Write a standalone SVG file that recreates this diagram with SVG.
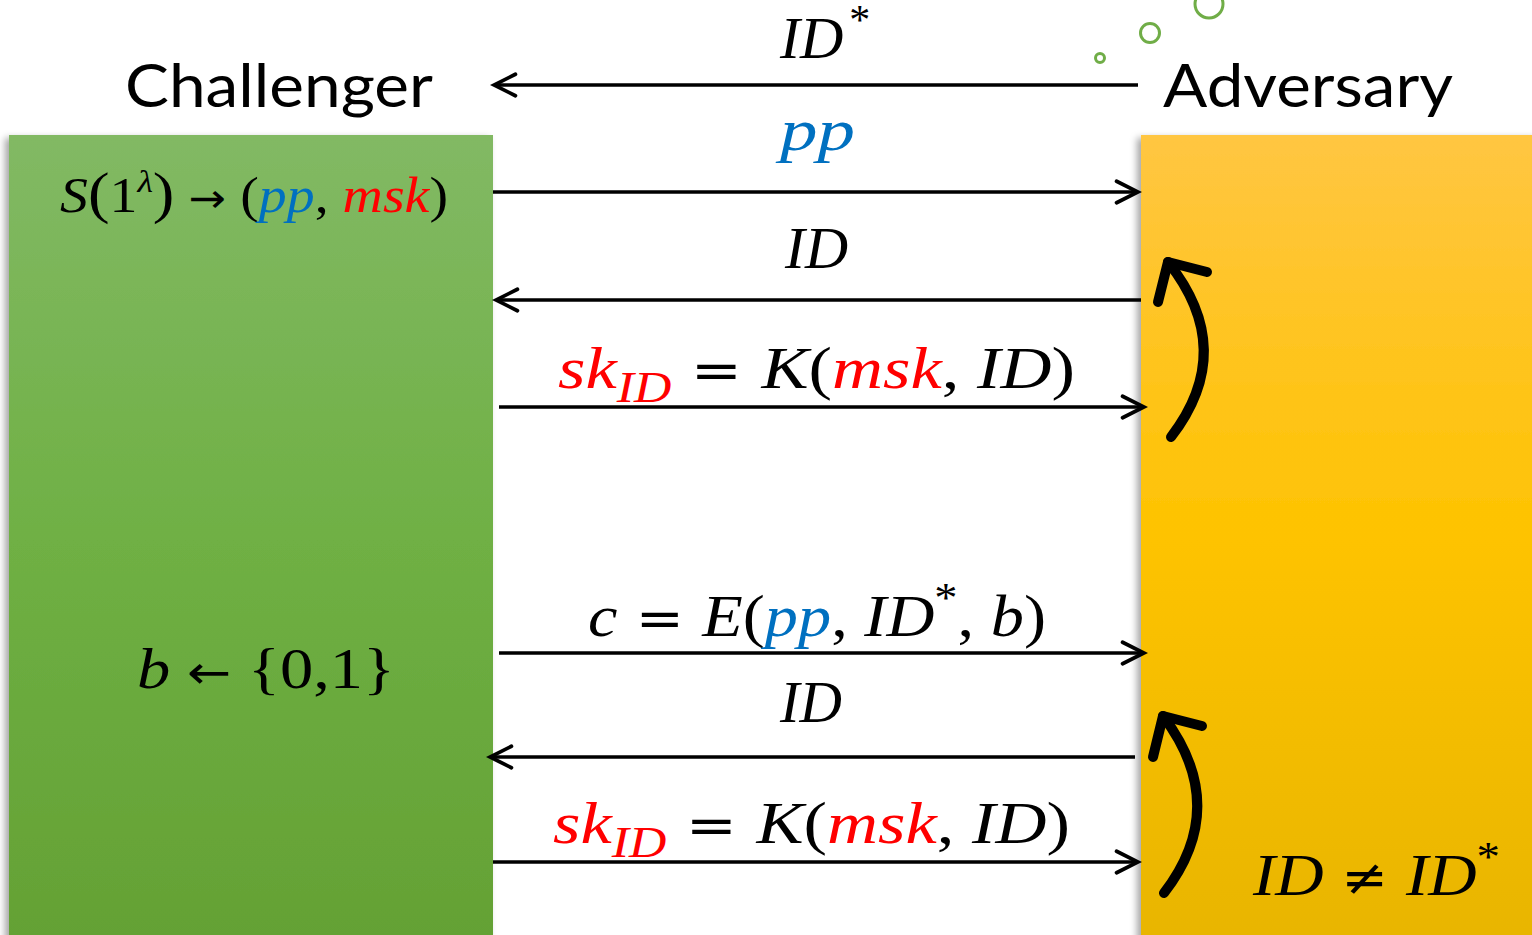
<svg xmlns="http://www.w3.org/2000/svg" width="1532" height="935" viewBox="0 0 1532 935">
  <defs>
    <linearGradient id="gGreen" x1="0" y1="0" x2="0" y2="1">
      <stop offset="0" stop-color="#82b964"/>
      <stop offset="0.5" stop-color="#6fb044"/>
      <stop offset="1" stop-color="#64a134"/>
    </linearGradient>
    <linearGradient id="gGold" x1="0" y1="0" x2="0" y2="1">
      <stop offset="0" stop-color="#ffc642"/>
      <stop offset="0.5" stop-color="#fec300"/>
      <stop offset="1" stop-color="#e8b500"/>
    </linearGradient>
    <filter id="shadow" x="-10%" y="-10%" width="120%" height="120%">
      <feDropShadow dx="-4" dy="3" stdDeviation="3.5" flood-color="#000" flood-opacity="0.35"/>
    </filter>
    <marker id="arrow" markerUnits="userSpaceOnUse" markerWidth="30" markerHeight="30" viewBox="-24 -14 28 28" refX="0" refY="0" orient="auto">
      <path d="M-20,-10 L0,0 L-20,10" fill="none" stroke="#000" stroke-width="3.5" stroke-linecap="round" stroke-linejoin="miter"/>
    </marker>
  </defs>
  <style>
    .title { font-family: Lato, "Liberation Sans", sans-serif; font-size: 60px; fill: #000; }
    .math { font-family: "Liberation Serif", "DejaVu Serif", serif; fill: #000; }
    .op { font-family: "DejaVu Sans", "Liberation Serif", serif; }
    .it { font-style: italic; }
    .blue { fill: #0070c0; }
    .red { fill: #ff0000; }
    .msg { stroke: #000; stroke-width: 3.5; fill: none; marker-end: url(#arrow); }
    .loop { stroke: #000; stroke-width: 10; fill: none; stroke-linecap: round; stroke-linejoin: round; }
    .bubble { fill: none; stroke: #70ad47; stroke-width: 3; }
  </style>

  <rect width="1532" height="935" fill="#ffffff"/>

  <!-- challenger column -->
  <g id="challenger">
    <rect x="9" y="135" width="484" height="810" fill="url(#gGreen)" filter="url(#shadow)"/>
    <text class="title" x="125" y="107" textLength="308" lengthAdjust="spacingAndGlyphs">Challenger</text>
    <text class="math" x="60" y="212" font-size="50" textLength="388" lengthAdjust="spacingAndGlyphs"><tspan class="it">S</tspan><tspan font-size="58">(</tspan>1<tspan class="it" font-size="32" dy="-20">λ</tspan><tspan dy="20" font-size="58">)</tspan><tspan class="op" font-size="40"> → </tspan>(<tspan class="it blue">pp</tspan>, <tspan class="it red">msk</tspan>)</text>
    <text class="math" x="137" y="688" font-size="58" textLength="258" lengthAdjust="spacingAndGlyphs"><tspan class="it">b</tspan><tspan class="op" font-size="46"> ← </tspan>{0,1}</text>
  </g>

  <!-- adversary column -->
  <g id="adversary">
    <rect x="1141" y="135" width="400" height="810" fill="url(#gGold)" filter="url(#shadow)"/>
    <text class="title" x="1163" y="107" textLength="290" lengthAdjust="spacingAndGlyphs">Adversary</text>
    <text class="math" x="1253" y="895" font-size="60" textLength="247" lengthAdjust="spacingAndGlyphs"><tspan class="it">ID</tspan><tspan class="op" font-size="50"> ≠ </tspan><tspan class="it">ID</tspan><tspan font-size="42" dy="-24">*</tspan></text>
  </g>

  <!-- thought bubbles -->
  <g id="bubbles">
    <circle class="bubble" cx="1100" cy="58" r="4.5"/>
    <circle class="bubble" cx="1150" cy="33" r="9.5"/>
    <circle class="bubble" cx="1209" cy="4" r="14"/>
  </g>

  <!-- message arrows -->
  <g id="connectors">
    <line class="msg" x1="1138" y1="85" x2="494" y2="85"/>
    <line class="msg" x1="493" y1="192" x2="1138" y2="192"/>
    <line class="msg" x1="1141" y1="300" x2="496" y2="300"/>
    <line class="msg" x1="499" y1="407" x2="1144" y2="407"/>
    <line class="msg" x1="499" y1="653" x2="1144" y2="653"/>
    <line class="msg" x1="1135" y1="757" x2="490" y2="757"/>
    <line class="msg" x1="493" y1="862" x2="1138" y2="862"/>

    <!-- repeat loops on the adversary side -->
    <path class="loop" d="M1171,437 Q1238,350 1168,262"/>
    <path class="loop" d="M1158,302 L1168,262 L1207,272"/>
    <path class="loop" d="M1164,893 Q1231,806 1163,716"/>
    <path class="loop" d="M1153,757 L1163,716 L1202,726"/>
  </g>

  <!-- message labels -->
  <g id="labels">
    <text class="math" x="780" y="58" font-size="60"><tspan class="it">ID</tspan><tspan font-size="42" dx="6" dy="-24">*</tspan></text>
    <text class="math it blue" x="780" y="150" font-size="60" textLength="75" lengthAdjust="spacingAndGlyphs">pp</text>
    <text class="math it" x="785" y="268" font-size="60" textLength="63" lengthAdjust="spacingAndGlyphs">ID</text>
    <text class="math" x="558" y="388" font-size="60" textLength="517" lengthAdjust="spacingAndGlyphs"><tspan class="it red">sk</tspan><tspan class="it red" font-size="44" dy="14">ID</tspan><tspan dy="-14" class="op" font-size="52"> = </tspan><tspan class="it">K</tspan>(<tspan class="it red">msk</tspan>, <tspan class="it">ID</tspan>)</text>
    <text class="math" x="588" y="636" font-size="60" textLength="458" lengthAdjust="spacingAndGlyphs"><tspan class="it">c</tspan><tspan class="op" font-size="52"> = </tspan><tspan class="it">E</tspan>(<tspan class="it blue">pp</tspan>, <tspan class="it">ID</tspan><tspan font-size="42" dy="-24">*</tspan><tspan dy="24">, </tspan><tspan class="it">b</tspan>)</text>
    <text class="math it" x="780" y="722" font-size="60" textLength="62" lengthAdjust="spacingAndGlyphs">ID</text>
    <text class="math" x="553" y="843" font-size="60" textLength="517" lengthAdjust="spacingAndGlyphs"><tspan class="it red">sk</tspan><tspan class="it red" font-size="44" dy="14">ID</tspan><tspan dy="-14" class="op" font-size="52"> = </tspan><tspan class="it">K</tspan>(<tspan class="it red">msk</tspan>, <tspan class="it">ID</tspan>)</text>
  </g>
</svg>
